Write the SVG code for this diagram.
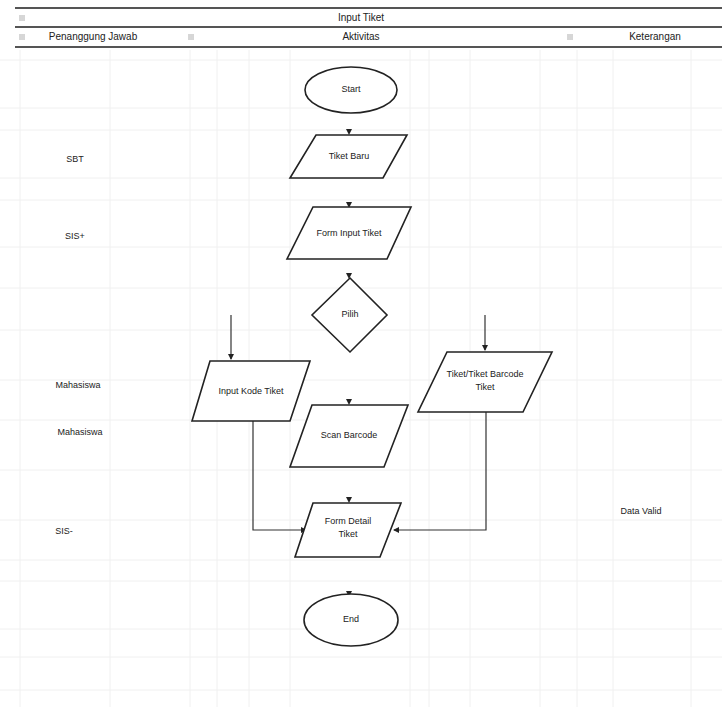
<svg xmlns="http://www.w3.org/2000/svg" width="722" height="707" viewBox="0 0 722 707">
<defs>
<style>
.grid line{stroke:#f0f0f0;stroke-width:1}
.hdr{stroke:#555;stroke-width:2}
.t{font-family:"Liberation Sans",Arial,sans-serif;font-size:9px;fill:#222;text-anchor:middle;dominant-baseline:middle}
.h{font-family:"Liberation Sans",Arial,sans-serif;font-size:10px;fill:#222;text-anchor:middle;dominant-baseline:middle}
.s{fill:#fff;stroke:#222;stroke-width:1.6}
.c{fill:none;stroke:#333;stroke-width:1.2}
.ic{fill:none;stroke:#999;stroke-width:0.8}
</style>
<marker id="ah" markerWidth="7" markerHeight="7" refX="5" refY="3" orient="auto" markerUnits="userSpaceOnUse">
<path d="M0,0 L6,3 L0,6 Z" fill="#222"/>
</marker>
</defs>
<rect width="722" height="707" fill="#fff"/>
<g class="grid">
<line x1="20" y1="50" x2="20" y2="707"/>
<line x1="110" y1="50" x2="110" y2="707"/>
<line x1="190" y1="50" x2="190" y2="707"/>
<line x1="217" y1="50" x2="217" y2="707"/>
<line x1="249" y1="50" x2="249" y2="707"/>
<line x1="290" y1="50" x2="290" y2="707"/>
<line x1="410" y1="50" x2="410" y2="707"/>
<line x1="429" y1="50" x2="429" y2="707"/>
<line x1="470" y1="50" x2="470" y2="707"/>
<line x1="540" y1="50" x2="540" y2="707"/>
<line x1="577" y1="50" x2="577" y2="707"/>
<line x1="613" y1="50" x2="613" y2="707"/>
<line x1="691" y1="50" x2="691" y2="707"/>
<line x1="0" y1="60" x2="722" y2="60"/>
<line x1="0" y1="108" x2="722" y2="108"/>
<line x1="0" y1="130" x2="722" y2="130"/>
<line x1="0" y1="178" x2="722" y2="178"/>
<line x1="0" y1="200" x2="722" y2="200"/>
<line x1="0" y1="247" x2="722" y2="247"/>
<line x1="0" y1="288" x2="722" y2="288"/>
<line x1="0" y1="330" x2="722" y2="330"/>
<line x1="0" y1="380" x2="722" y2="380"/>
<line x1="0" y1="420" x2="722" y2="420"/>
<line x1="0" y1="470" x2="722" y2="470"/>
<line x1="0" y1="520" x2="722" y2="520"/>
<line x1="0" y1="560" x2="722" y2="560"/>
<line x1="0" y1="581" x2="722" y2="581"/>
<line x1="0" y1="629" x2="722" y2="629"/>
<line x1="0" y1="657" x2="722" y2="657"/>
<line x1="0" y1="690" x2="722" y2="690"/>
</g>
<g id="header">
<line class="hdr" x1="15" y1="8" x2="722" y2="8"/>
<line class="hdr" x1="15" y1="27" x2="722" y2="27"/>
<line class="hdr" x1="15" y1="47" x2="722" y2="47"/>
<text class="h" x="361" y="18">Input Tiket</text>
<text class="h" x="93" y="37">Penanggung Jawab</text>
<text class="h" x="361" y="37">Aktivitas</text>
<text class="h" x="655" y="37">Keterangan</text>
<path class="ic" d="M20,15 v6 M22,15 v6 M24,15 v6"/>
<path class="ic" d="M20,34 v6 M22,34 v6 M24,34 v6"/>
<path class="ic" d="M189,34 v6 M191,34 v6 M193,34 v6"/>
<path class="ic" d="M568,34 v6 M570,34 v6 M572,34 v6"/>
</g>
<g id="labels">
<text class="t" x="75" y="160">SBT</text>
<text class="t" x="75" y="237">SIS+</text>
<text class="t" x="78" y="386">Mahasiswa</text>
<text class="t" x="80" y="433">Mahasiswa</text>
<text class="t" x="64" y="532">SIS-</text>
<text class="t" x="641" y="512">Data Valid</text>
</g>
<g id="connectors">
<line class="c" x1="349" y1="122" x2="349" y2="134" marker-end="url(#ah)" stroke-opacity="0"/>
<line class="c" x1="349" y1="195" x2="349" y2="207" marker-end="url(#ah)" stroke-opacity="0"/>
<line class="c" x1="349" y1="266" x2="349" y2="278" marker-end="url(#ah)" stroke-opacity="0"/>
<line class="c" x1="349" y1="392" x2="349" y2="404" marker-end="url(#ah)" stroke-opacity="0"/>
<line class="c" x1="349" y1="490" x2="349" y2="502" marker-end="url(#ah)" stroke-opacity="0"/>
<line class="c" x1="349" y1="584" x2="349" y2="596" marker-end="url(#ah)" stroke-opacity="0"/>
<line class="c" x1="231" y1="315" x2="231" y2="359" marker-end="url(#ah)"/>
<line class="c" x1="485" y1="315" x2="485" y2="350" marker-end="url(#ah)"/>
<polyline class="c" points="253,421 253,530 306,530" marker-end="url(#ah)"/>
<polyline class="c" points="486,412 486,530 394,530" marker-end="url(#ah)"/>
</g>
<g id="start">
<ellipse class="s" cx="351" cy="90" rx="46" ry="23"/>
<text class="t" x="351" y="90">Start</text>
</g>
<g id="tiket-baru">
<polygon class="s" points="316,135 407,135 383,178 290,178"/>
<text class="t" x="349" y="157">Tiket Baru</text>
</g>
<g id="form-input">
<polygon class="s" points="313,207 411,207 387,259 287,259"/>
<text class="t" x="349" y="234">Form Input Tiket</text>
</g>
<g id="pilih">
<polygon class="s" points="350,278 387,315 350,352 312,315"/>
<text class="t" x="350" y="315">Pilih</text>
</g>
<g id="input-kode">
<polygon class="s" points="210,361 310,361 290,421 192,421"/>
<text class="t" x="251" y="392">Input Kode Tiket</text>
</g>
<g id="scan-barcode">
<polygon class="s" points="312,405 408,405 384,467 290,467"/>
<text class="t" x="349" y="436">Scan Barcode</text>
</g>
<g id="tiket-barcode">
<polygon class="s" points="447,352 552,352 523,412 418,412"/>
<text class="t" x="485" y="375">Tiket/Tiket Barcode</text>
<text class="t" x="485" y="388">Tiket</text>
</g>
<g id="form-detail">
<polygon class="s" points="313,503 401,503 380,557 295,557"/>
<text class="t" x="348" y="522">Form Detail</text>
<text class="t" x="348" y="535">Tiket</text>
</g>
<g id="end">
<ellipse class="s" cx="351" cy="620" rx="47" ry="26"/>
<text class="t" x="351" y="620">End</text>
</g>
</svg>
